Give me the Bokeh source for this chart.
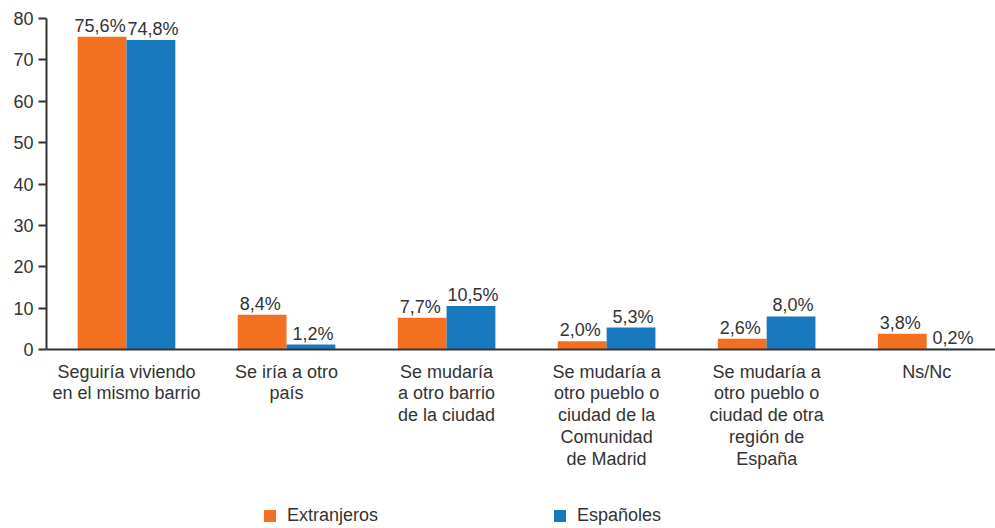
import numpy as np
from bokeh.plotting import figure
from bokeh.models import ColumnDataSource, FixedTicker, Legend, LegendItem, Span
from bokeh.core.properties import value
from bokeh.embed import file_html
from bokeh.resources import INLINE

categories = [
    "Seguiría viviendo\nen el mismo barrio",
    "Se iría a otro\npaís",
    "Se mudaría\na otro barrio\nde la ciudad",
    "Se mudaría a\notro pueblo o\nciudad de la\nComunidad\nde Madrid",
    "Se mudaría a\notro pueblo o\nciudad de otra\nregión de\nEspaña",
    "Ns/Nc",
]
extranjeros = [75.6, 8.4, 7.7, 2.0, 2.6, 3.8]
espanoles = [74.8, 1.2, 10.5, 5.3, 8.0, 0.2]
y_ticks = [0, 10, 20, 30, 40, 50, 60, 70, 80]
series_names = ["Extranjeros", "Españoles"]

ORANGE = "#F37021"
BLUE = "#1879BF"
TEXT = "#333333"
FONT = "Liberation Sans"

W, H = 995, 528
TOP, LEFT = 18, 46
AXIS_PX = 331          # pixel height of the 0..80 value band
Y_MAX = 80
frame_h = H - TOP
y_min = Y_MAX - Y_MAX * frame_h / AXIS_PX

idx = np.arange(len(categories))
bw = 0.305

def fmt(v):
    return f"{v:.1f}".replace(".", ",") + "%"

src_e = ColumnDataSource(dict(x=idx - bw / 2, top=extranjeros, lab=[fmt(v) for v in extranjeros]))
src_s = ColumnDataSource(dict(x=idx + bw / 2, top=espanoles, lab=[fmt(v) for v in espanoles]))
src_c = ColumnDataSource(dict(x=idx, y=np.zeros(len(categories)), lab=categories))

p = figure(width=W, height=H, output_backend="svg", toolbar_location=None,
           x_range=(-0.5, 5.43), y_range=(y_min, Y_MAX), x_axis_location=None,
           min_border_left=LEFT, min_border_right=0, min_border_top=TOP, min_border_bottom=0)
p.outline_line_color = None
p.xgrid.visible = False
p.ygrid.visible = False

r_e = p.vbar(x="x", top="top", width=bw, source=src_e, color=ORANGE, line_color=None)
r_s = p.vbar(x="x", top="top", width=bw, source=src_s, color=BLUE, line_color=None)

for src, xo in ((src_e, -2), (src_s, 2)):
    p.text(x="x", y="top", text="lab", source=src, text_align="center",
           text_baseline="bottom", y_offset=-1, x_offset=xo,
           text_font=value(FONT), text_font_size="18px", text_color=TEXT)

# category labels under the baseline
p.text(x="x", y="y", text="lab", source=src_c, text_align="center",
       text_baseline="top", y_offset=12, text_line_height=1.09,
       text_font=value(FONT), text_font_size="18px", text_color=TEXT)

# baseline (x axis line)
p.add_layout(Span(location=0, dimension="width", line_color=TEXT, line_width=2))

# y axis
p.yaxis.ticker = FixedTicker(ticks=y_ticks)
p.yaxis.bounds = (0, Y_MAX)
p.yaxis.major_label_text_font = FONT
p.yaxis.major_label_text_font_size = "18px"
p.yaxis.major_label_text_color = TEXT
p.yaxis.axis_line_color = TEXT
p.yaxis.axis_line_width = 2
p.yaxis.major_tick_line_color = TEXT
p.yaxis.major_tick_line_width = 2
p.yaxis.major_tick_in = 0
p.yaxis.major_tick_out = 8
p.yaxis.minor_tick_line_color = None
p.yaxis.major_label_standoff = 5

legend = Legend(items=[LegendItem(label=series_names[0], renderers=[r_e]),
                       LegendItem(label=series_names[1], renderers=[r_s])],
                orientation="horizontal", location=(216, 2),
                glyph_width=15, glyph_height=15, label_standoff=10, spacing=174,
                padding=0, margin=0, border_line_color=None, background_fill_alpha=0,
                label_text_font=FONT, label_text_font_size="18px", label_text_color=TEXT)
p.add_layout(legend, "center")

open("out.html", "w").write(file_html(p, INLINE))
